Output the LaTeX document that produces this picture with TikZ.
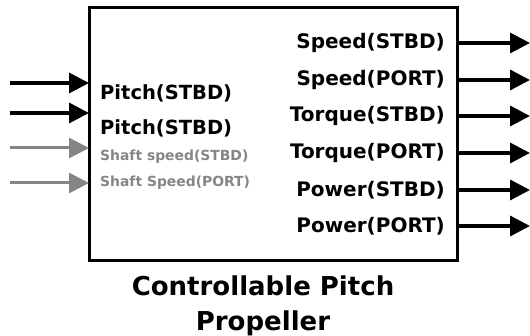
\documentclass[tikz,border=0pt]{standalone}
\usepackage{fontspec}
\setmainfont{DejaVu Sans}
\usetikzlibrary{arrows.meta}

\tikzset{
	sig/.style={line width=3.4pt, -{Triangle[length=20pt,width=20pt]}},
	weak/.style={sig, color=black!48, line width=3pt},
	inlbl/.style={anchor=west, inner sep=0pt, font=\bfseries\fontsize{19.5}{22}\selectfont},
	smalllbl/.style={anchor=west, inner sep=0pt, color=black!48, font=\bfseries\fontsize{13.9}{15}\selectfont},
	outlbl/.style={anchor=east, inner sep=0pt, font=\bfseries\fontsize{20}{22}\selectfont}
}

\begin{document}
\begin{tikzpicture}[x=1pt, y=-1pt]
			%%%%% START %%%%%
			\useasboundingbox (0, 0) rectangle (530, 336);
			
			\draw[line width=3pt] (89, 8) rectangle (457, 261);
			
			% inputs
			\node[inlbl] (pitchA) at (100, 93) {Pitch(STBD)};
			\node[inlbl] (pitchB) at (100, 128) {Pitch(STBD)};
			\node[smalllbl] (shaftA) at (100, 157) {Shaft speed(STBD)};
			\node[smalllbl] (shaftB) at (100, 183) {Shaft Speed(PORT)};
			
			\coordinate (inA) at (10, 83);
			\coordinate (inB) at (10, 113);
			\coordinate (inC) at (10, 148);
			\coordinate (inD) at (10, 183);
			\draw[sig] (inA) -- (inA -| 89, 0);
			\draw[sig] (inB) -- (inB -| 89, 0);
			\draw[weak] (inC) -- (inC -| 89, 0);
			\draw[weak] (inD) -- (inD -| 89, 0);
			
			% outputs
			\node[outlbl] (speedS) at (445, 43) {Speed(STBD)};
			\node[outlbl] (speedP) at (445, 80) {Speed(PORT)};
			\node[outlbl] (torqueS) at (445, 116) {Torque(STBD)};
			\node[outlbl] (torqueP) at (445, 153) {Torque(PORT)};
			\node[outlbl] (powerS) at (445, 190) {Power(STBD)};
			\node[outlbl] (powerP) at (445, 226) {Power(PORT)};
			
			\foreach \n/\y in {oA/43, oB/80, oC/116, oD/153, oE/190, oF/226}
				\draw[sig] (457, \y) coordinate (\n) -- (530, \y);
			
			\node[align=center, font=\bfseries\fontsize{26}{35}\selectfont] (title) at (263, 306) {Controllable Pitch\\Propeller};
			%%%%% END %%%%%
\end{tikzpicture}
\end{document}
